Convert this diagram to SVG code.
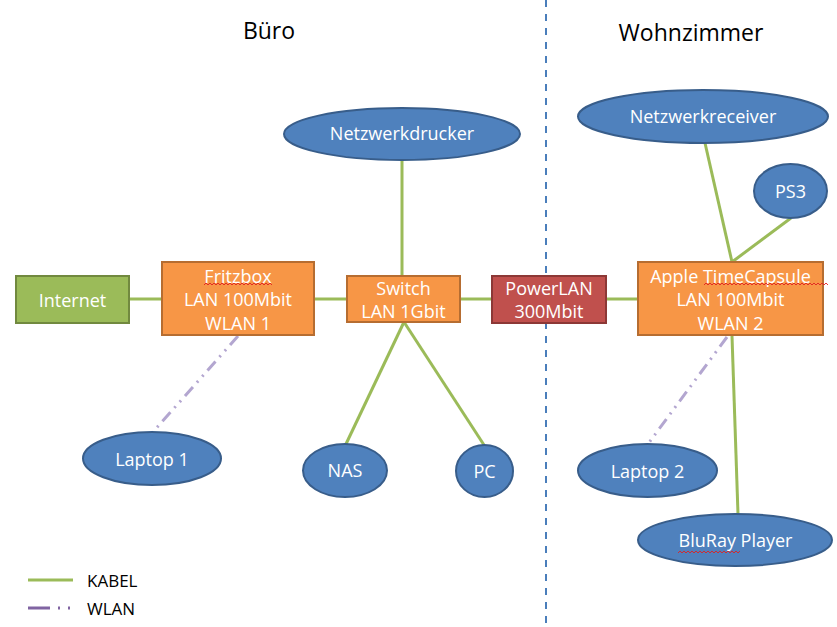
<svg xmlns="http://www.w3.org/2000/svg" width="837" height="627" viewBox="0 0 837 627">
<style>
text{font-family:"Open Sans","Liberation Sans",sans-serif;}
.t{fill:#fff;font-size:18px;text-anchor:middle;}
.h{fill:#000;font-size:23px;text-anchor:middle;}
.lg{fill:#000;font-size:17px;}
.ell{fill:#4F81BD;stroke:#385D8A;stroke-width:2;}
.org{fill:#F79646;stroke:#B66D31;stroke-width:2;}
.kabel{stroke:#9BBB59;stroke-width:3;fill:none;}
.wlan{stroke:#B3A6D0;stroke-width:3;fill:none;stroke-dasharray:12 6 2 6 2 6;}
.sq{stroke:#E02020;stroke-width:0.9;fill:none;}
</style>
<rect width="837" height="627" fill="#fff"/>
<line x1="546" y1="0" x2="546" y2="627" stroke="#4A7EBB" stroke-width="2" stroke-dasharray="7 7"/>
<text class="h" x="269" y="39">Büro</text>
<text class="h" x="691" y="41">Wohnzimmer</text>
<g id="connectors">
<line class="kabel" x1="129" y1="299" x2="162" y2="299"/>
<line class="kabel" x1="314" y1="299" x2="347" y2="299"/>
<line class="kabel" x1="460" y1="299" x2="492" y2="299"/>
<line class="kabel" x1="606" y1="299" x2="638" y2="299"/>
<line class="kabel" x1="402" y1="160" x2="402" y2="276"/>
<line class="kabel" x1="404" y1="322" x2="346" y2="444"/>
<line class="kabel" x1="404" y1="322" x2="484" y2="445"/>
<line class="kabel" x1="705" y1="143" x2="732" y2="262"/>
<line class="kabel" x1="791" y1="218" x2="732" y2="262"/>
<line class="kabel" x1="732" y1="336" x2="738" y2="514"/>
<line class="wlan" x1="238" y1="336" x2="153" y2="432"/>
<line class="wlan" x1="727" y1="337" x2="648" y2="444"/>
</g>
<g id="internet">
<rect x="16" y="276" width="113" height="47" fill="#9BBB59" stroke="#71893F" stroke-width="2"/>
<text class="t" x="72.5" y="307">Internet</text>
</g>
<g id="fritzbox">
<rect class="org" x="162" y="262" width="152" height="73"/>
<text class="t" x="238" y="283">Fritzbox</text>
<text class="t" x="238" y="306">LAN 100Mbit</text>
<text class="t" x="238" y="330">WLAN 1</text>
<path class="sq" d="M204 285 l2 -2 l2 2 l2 -2 l2 2 l2 -2 l2 2 l2 -2 l2 2 l2 -2 l2 2 l2 -2 l2 2 l2 -2 l2 2 l2 -2 l2 2 l2 -2 l2 2 l2 -2 l2 2 l2 -2 l2 2 l2 -2 l2 2 l2 -2 l2 2 l2 -2 l2 2 l2 -2 l2 2 l2 -2 l2 2 l2 -2 l2 2"/>
</g>
<g id="switch">
<rect class="org" x="347" y="276" width="113" height="46"/>
<text class="t" x="403.5" y="295">Switch</text>
<text class="t" x="403.5" y="318">LAN 1Gbit</text>
</g>
<g id="powerlan">
<rect x="492" y="276" width="114" height="47" fill="#C0504D" stroke="#8C3836" stroke-width="2"/>
<text class="t" x="549" y="295">PowerLAN</text>
<text class="t" x="549" y="318">300Mbit</text>
</g>
<g id="timecapsule">
<rect class="org" x="638" y="262" width="185" height="73"/>
<text class="t" x="730.5" y="283">Apple TimeCapsule</text>
<text class="t" x="730.5" y="306">LAN 100Mbit</text>
<text class="t" x="730.5" y="330">WLAN 2</text>
<path class="sq" d="M704 285 l2 -2 l2 2 l2 -2 l2 2 l2 -2 l2 2 l2 -2 l2 2 l2 -2 l2 2 l2 -2 l2 2 l2 -2 l2 2 l2 -2 l2 2 l2 -2 l2 2 l2 -2 l2 2 l2 -2 l2 2 l2 -2 l2 2 l2 -2 l2 2 l2 -2 l2 2 l2 -2 l2 2 l2 -2 l2 2 l2 -2 l2 2 l2 -2 l2 2 l2 -2 l2 2 l2 -2 l2 2 l2 -2 l2 2 l2 -2 l2 2 l2 -2 l2 2 l2 -2 l2 2 l2 -2 l2 2 l2 -2 l2 2 l2 -2 l2 2 l2 -2 l2 2 l2 -2 l2 2 l2 -2 l2 2 l2 -2 l2 2"/>
</g>
<g id="netzwerkdrucker">
<ellipse class="ell" cx="402" cy="134" rx="118" ry="26"/>
<text class="t" x="402" y="140">Netzwerkdrucker</text>
</g>
<g id="netzwerkreceiver">
<ellipse class="ell" cx="703" cy="116.5" rx="125" ry="26.5"/>
<text class="t" x="703" y="123">Netzwerkreceiver</text>
</g>
<g id="ps3">
<ellipse class="ell" cx="790.5" cy="191" rx="36.5" ry="27"/>
<text class="t" x="790.5" y="198">PS3</text>
</g>
<g id="laptop1">
<ellipse class="ell" cx="152" cy="458.5" rx="69" ry="26.5"/>
<text class="t" x="152" y="466">Laptop 1</text>
</g>
<g id="nas">
<ellipse class="ell" cx="345" cy="470.5" rx="42" ry="26.5"/>
<text class="t" x="345" y="477">NAS</text>
</g>
<g id="pc">
<ellipse class="ell" cx="484.5" cy="471" rx="28.5" ry="26"/>
<text class="t" x="484.5" y="478">PC</text>
</g>
<g id="laptop2">
<ellipse class="ell" cx="647.5" cy="470.5" rx="69.5" ry="26.5"/>
<text class="t" x="647.5" y="478">Laptop 2</text>
</g>
<g id="bluray">
<ellipse class="ell" cx="735" cy="540" rx="97" ry="26"/>
<text class="t" x="735.5" y="547">BluRay Player</text>
<path class="sq" d="M678 553 l2 -2 l2 2 l2 -2 l2 2 l2 -2 l2 2 l2 -2 l2 2 l2 -2 l2 2 l2 -2 l2 2 l2 -2 l2 2 l2 -2 l2 2 l2 -2 l2 2 l2 -2 l2 2 l2 -2 l2 2 l2 -2 l2 2 l2 -2 l2 2 l2 -2 l2 2 l2 -2 l2 2 l2 -2"/>
</g>
<g id="legend">
<line x1="28" y1="580" x2="73" y2="580" stroke="#9BBB59" stroke-width="3"/>
<text class="lg" x="87" y="587">KABEL</text>
<line x1="28" y1="608" x2="73" y2="608" stroke="#8064A2" stroke-width="3" stroke-dasharray="22 8 2 8 2 8"/>
<text class="lg" x="87" y="615">WLAN</text>
</g>
</svg>
